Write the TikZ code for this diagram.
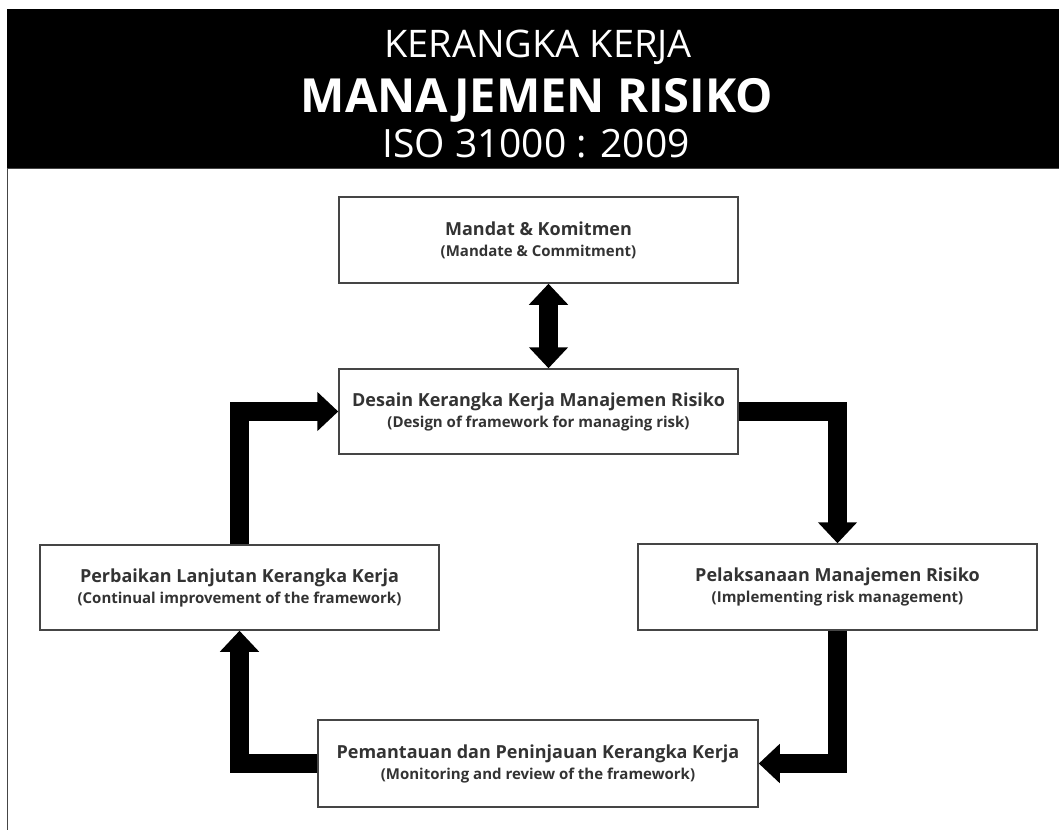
\documentclass[tikz,border=0pt]{standalone}
\usepackage{fontspec}
\setmainfont{Open Sans}
\usetikzlibrary{arrows.meta}
\definecolor{txt}{HTML}{333333}
\definecolor{edge}{HTML}{454545}
\begin{document}
\begin{tikzpicture}[x=1pt,y=-1pt,
  box/.style={draw=edge, line width=1.5pt, fill=white, inner sep=0pt, align=center,
    text=txt, minimum width=399pt, minimum height=86pt,
    font=\fontsize{18}{21}\selectfont\bfseries},
  sub/.style={},
  fat/.style={line width=19pt, draw=black, -{Triangle[width=38pt,length=21pt]}},
  fatboth/.style={line width=19pt, draw=black, {Triangle[width=38pt,length=21pt]}-{Triangle[width=38pt,length=21pt]}},
  head/.style={text=white, anchor=base, inner sep=0pt}]
\useasboundingbox (0,0) rectangle (1059,830);
\fill[white] (0,0) rectangle (1059,830);
% header band
\fill[black] (7,9) rectangle (1059,168);
\draw[edge, line width=1pt] (7,168) -- (1059,168);
\draw[edge, line width=1.6pt] (7.5,168) -- (7.5,830);
\node[head, font=\fontsize{38}{40}\selectfont] (t1) at (538,57) {KERANGKA KERJA};
\node[head, font=\fontsize{47}{50}\selectfont\bfseries] (t2) at (537,112) {MANAJEMEN RISIKO};
\node[head, font=\fontsize{39}{40}\selectfont] (t3) at (536,157) {ISO 31000 : 2009};
% boxes
\node[box] (mandat) at (538.5,240) {Mandat \& Komitmen\\\fontsize{15}{21}\selectfont (Mandate \& Commitment)};
\node[box, minimum height=85pt] (desain) at (538.5,411.5) {Desain Kerangka Kerja Manajemen Risiko\\\fontsize{15}{21}\selectfont (Design of framework for managing risk)};
\node[box, minimum height=85pt] (perb) at (239.5,587.5) {Perbaikan Lanjutan Kerangka Kerja\\\fontsize{15}{21}\selectfont (Continual improvement of the framework)};
\node[box] (pelak) at (837.5,587) {Pelaksanaan Manajemen Risiko\\\fontsize{15}{21}\selectfont (Implementing risk management)};
\node[box, minimum width=440pt, minimum height=87pt] (pemant) at (538,763.5) {Pemantauan dan Peninjauan Kerangka Kerja\\\fontsize{15}{21}\selectfont (Monitoring and review of the framework)};
% arrows
\draw[fatboth] ([xshift=10pt]mandat.south) -- ([xshift=10pt]desain.north);
\draw[fat] (desain.east) -| (pelak.north);
\draw[fat] (pelak.south) |- (pemant.east);
\draw[fat] (pemant.west) -| (perb.south);
\draw[fat] (perb.north) |- (desain.west);
\end{tikzpicture}
\end{document}
